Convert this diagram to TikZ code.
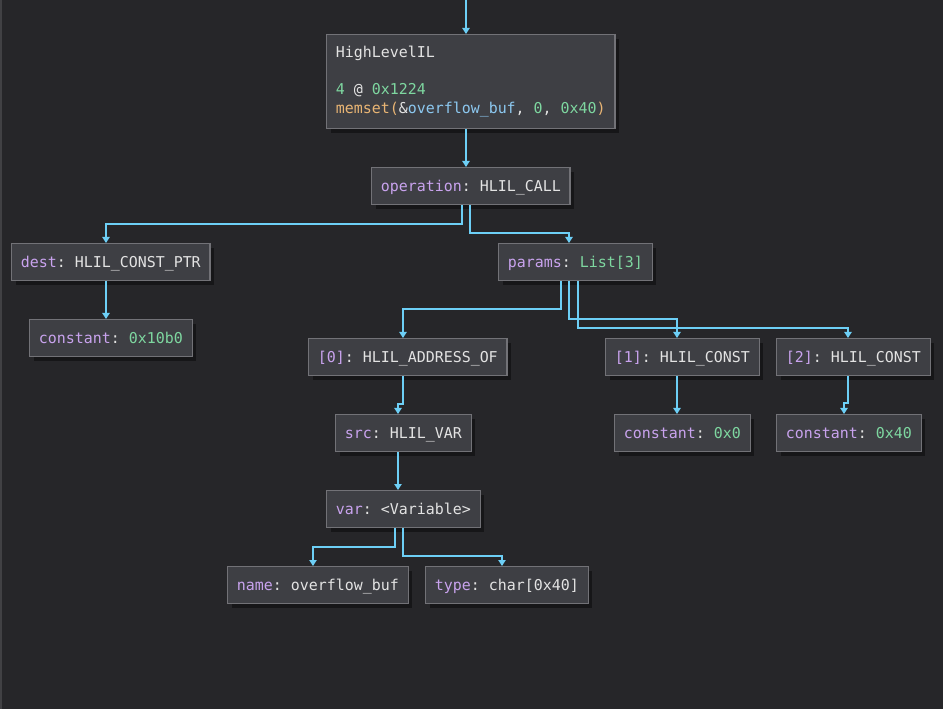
\documentclass[tikz,border=0pt]{standalone}
\usepackage{fontspec}
\setmonofont{DejaVu Sans Mono}
\usepackage{tikz}
\usetikzlibrary{arrows.meta,shadows}

\definecolor{bgc}{HTML}{262629}
\definecolor{boxc}{HTML}{3E3F44}
\definecolor{rimc}{HTML}{727277}
\definecolor{shadc}{HTML}{161618}
\definecolor{edgec}{HTML}{6DCFF6}
\definecolor{keyc}{HTML}{C9A3EE}
\definecolor{txtc}{HTML}{E3E3E3}
\definecolor{numc}{HTML}{7ED7A0}
\definecolor{fnc}{HTML}{E9B574}
\definecolor{varc}{HTML}{8CC8F0}

\newcommand{\fld}[1]{\textcolor{keyc}{#1}}
\newcommand{\hexnum}[1]{\textcolor{numc}{#1}}

\begin{document}
\begin{tikzpicture}[x=0.75pt,y=-0.75pt,>={Triangle[width=5.5pt,length=4.5pt]},
  panel/.style={draw=rimc,line width=0.9pt,fill=boxc,anchor=north west,
    font=\ttfamily\fontsize{11.2}{14}\selectfont,text=txtc,
    inner xsep=7pt,inner ysep=0pt,
    drop shadow={shadow xshift=3pt,shadow yshift=-3pt,fill=shadc,opacity=1}},
  box/.style={panel,minimum height=27.75pt,text height=10.3pt,text depth=2.1pt},
  edge/.style={->,draw=edgec,line width=0.9pt}]
  % canvas
  \fill[bgc] (0,0) rectangle (943,709);
  \useasboundingbox (0,0) rectangle (943,709);
  \draw[rimc!35!bgc,line width=1pt] (1,0) -- (1,709);
  % top block
  \node[panel,minimum height=70.5pt,align=left] (hl) at (326,34)
    {HighLevelIL\\ \strut\\
     \hexnum{4} @ \hexnum{0x1224}\\
     \textcolor{fnc}{memset(}\&\textcolor{varc}{overflow\_buf}, \hexnum{0}, \hexnum{0x40}\textcolor{fnc}{)}};
  % tree nodes
  \node[box] (op) at (371,167) {\fld{operation}: HLIL\_CALL};
  \node[box] (dest) at (11,243) {\fld{dest}: HLIL\_CONST\_PTR};
  \node[box] (cptr) at (29,319) {\fld{constant}: \hexnum{0x10b0}};
  \node[box] (params) at (498,243) {\fld{params}: \hexnum{List[3]}};
  \node[box] (arg0) at (308,338) {\fld{[0]}: HLIL\_ADDRESS\_OF};
  \node[box] (arg1) at (605,338) {\fld{[1]}: HLIL\_CONST};
  \node[box] (arg2) at (776,338) {\fld{[2]}: HLIL\_CONST};
  \node[box] (src) at (335,414) {\fld{src}: HLIL\_VAR};
  \node[box] (czero) at (614,414) {\fld{constant}: \hexnum{0x0}};
  \node[box] (cforty) at (776,414) {\fld{constant}: \hexnum{0x40}};
  \node[box] (var) at (326,490) {\fld{var}: <Variable>};
  \node[box] (name) at (227,566) {\fld{name}: overflow\_buf};
  \node[box] (type) at (425,566) {\fld{type}: char[0x40]};
  % incoming edge
  \coordinate (entry) at (466,0);
  \draw[edge] (entry) -- (entry |- hl.north);
  % edges: from/to/x out/y turn/x in
  \foreach \a/\b/\xa/\ym/\xb in {hl/op/466/147/466, op/dest/462/224/106,
      op/params/470/233/569, dest/cptr/106/300/106, params/arg0/561/309/403,
      params/arg1/569/319/677, params/arg2/578/328/848, arg0/src/403/404/398,
      arg1/czero/677/395/677, arg2/cforty/848/403/844, src/var/398/470/398,
      var/name/395/547/313, var/type/403/556/502}
    \draw[edge] (\xa,0 |- \a.south) -- (\xa,\ym) -- (\xb,\ym) -- (\xb,0 |- \b.north);
\end{tikzpicture}
\end{document}
